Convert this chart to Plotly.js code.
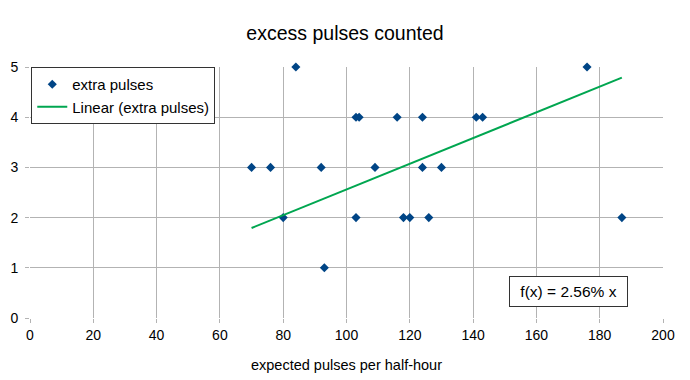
<!DOCTYPE html>
<html><head><meta charset="utf-8">
<script src="https://cdn.plot.ly/plotly-3.0.1.min.js"></script>
<style>html,body{margin:0;padding:0;background:#fff}#c{width:690px;height:380px}</style>
</head><body><div id="c"></div>
<script>
const expectedPulses = [70, 76, 80, 84, 92, 93, 103, 104, 103, 109, 116, 118, 120, 124, 124, 126, 130, 141, 143, 176, 187];
const extraPulses    = [3,  3,  2,  5,  3,  1,  4,   4,   2,   3,   4,   2,   2,   4,   3,   2,   3,   4,   4,   5,   2];
const trendSlope = 0.0256;
const trendLabel = "f(x) = 2.56% x";
const xTicks = [0, 20, 40, 60, 80, 100, 120, 140, 160, 180, 200];
const yTicks = [0, 1, 2, 3, 4, 5];

const xmin = Math.min(...expectedPulses), xmax = Math.max(...expectedPulses);
const font = "Liberation Sans, Arial, sans-serif";

const traces = [
  {x: expectedPulses, y: extraPulses, mode: "markers", type: "scatter", name: "extra pulses", cliponaxis: false,
   marker: {symbol: "diamond", size: 7, color: "#004586"}},
  {x: [xmin, xmax], y: [xmin * trendSlope, xmax * trendSlope], mode: "lines", type: "scatter",
   name: "Linear (extra pulses)", line: {color: "#00a650", width: 2}}
];

const layout = {
  width: 690, height: 380,
  margin: {l: 30, r: 27, t: 67, b: 62},
  paper_bgcolor: "#fff", plot_bgcolor: "#fff",
  font: {family: font, size: 14, color: "#000"},
  title: {text: "excess pulses counted", font: {family: font, size: 19.5, color: "#000"}, x: 0.5, xanchor: "center", y: 0.913, yanchor: "middle"},
  xaxis: {range: [0, 200], tickvals: xTicks, ticktext: xTicks.map(String), showgrid: true, gridcolor: "#b3b3b3",
    zeroline: false, showline: false, ticks: "outside", ticklen: 4, tickcolor: "#b3b3b3",
    tickfont: {family: font, size: 14, color: "#000"},
    title: {text: "expected pulses per half-hour", font: {family: font, size: 14.5, color: "#000"}, standoff: 18}},
  yaxis: {range: [0, 5], tickvals: yTicks, ticktext: yTicks.map(String), showgrid: true, gridcolor: "#b3b3b3",
    zeroline: false, showline: false, ticks: "outside", ticklen: 4, tickcolor: "#b3b3b3", ticklabelstandoff: 4,
    tickfont: {family: font, size: 14, color: "#000"}},
  showlegend: true,
  legend: {x: 0.002, y: 1, xanchor: "left", yanchor: "top", bgcolor: "#fff", bordercolor: "#333", borderwidth: 1,
    font: {family: font, size: 15, color: "#000"}, tracegroupgap: 0},
  annotations: [{text: trendLabel, xref: "paper", yref: "paper", x: 0.85, y: 0.104, xanchor: "center", yanchor: "middle",
    showarrow: false, bordercolor: "#333", borderwidth: 1, borderpad: 6, bgcolor: "#fff", width: 105,
    font: {family: font, size: 15.5, color: "#000"}}]
};
Plotly.newPlot("c", traces, layout, {displayModeBar: false, staticPlot: true});
</script></body></html>
